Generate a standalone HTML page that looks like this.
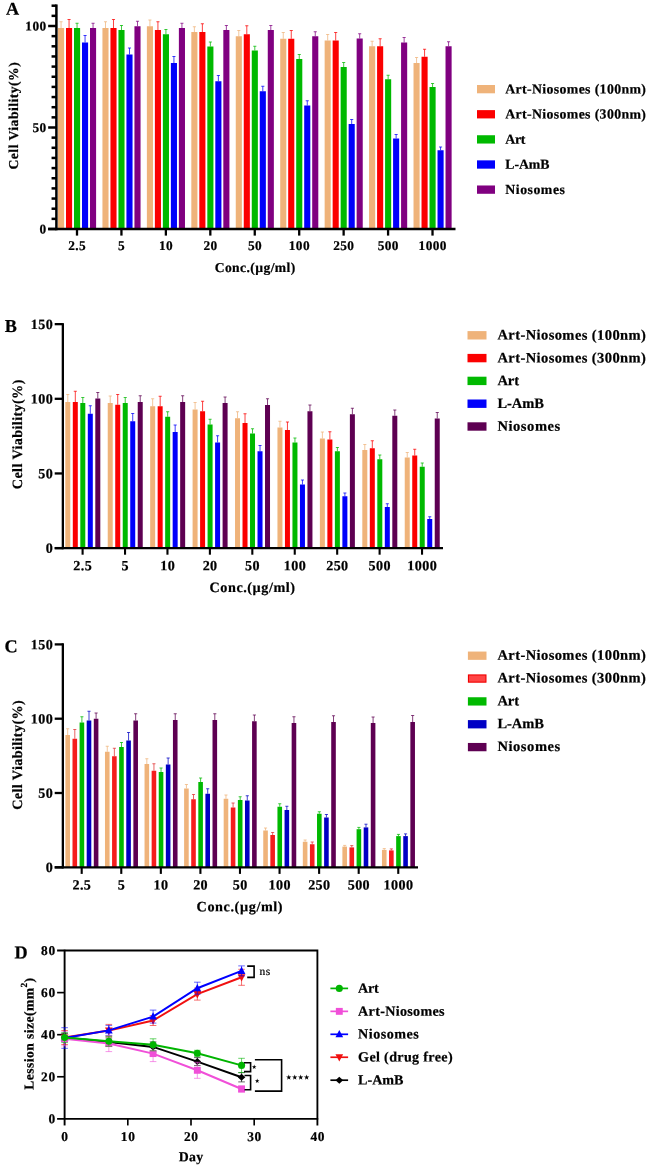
<!DOCTYPE html>
<html><head><meta charset="utf-8"><title>Figure</title>
<style>html,body{margin:0;padding:0;background:#fff;}body{width:649px;height:1166px;overflow:hidden;font-family:"Liberation Serif",serif;}svg{display:block;filter:blur(0.35px);}svg text{font-family:"Liberation Serif",serif;font-weight:bold;stroke:#000;stroke-width:0.22px;}</style></head>
<body>
<svg width="649" height="1166" viewBox="0 0 649 1166" font-family="Liberation Serif" font-weight="bold" fill="#000">
<rect width="649" height="1166" fill="#fff"/>
<g id="panelA">
<rect x="58.00" y="28.00" width="6.1" height="201.00" fill="#EFB37A"/>
<path d="M61.05 28.00V21.75M59.50 21.75H62.60" stroke="#EFB37A" stroke-width="0.75" fill="none"/>
<rect x="66.00" y="28.00" width="6.1" height="201.00" fill="#FB0000"/>
<path d="M69.05 28.00V19.50M67.50 19.50H70.60" stroke="#FB0000" stroke-width="0.75" fill="none"/>
<rect x="74.00" y="28.00" width="6.1" height="201.00" fill="#00B900"/>
<path d="M77.05 28.00V23.25M75.50 23.25H78.60" stroke="#00B900" stroke-width="0.75" fill="none"/>
<rect x="82.00" y="42.50" width="6.1" height="186.50" fill="#0000FB"/>
<path d="M85.05 42.50V35.50M83.50 35.50H86.60" stroke="#0000FB" stroke-width="0.75" fill="none"/>
<rect x="90.00" y="28.00" width="6.1" height="201.00" fill="#800080"/>
<path d="M93.05 28.00V23.25M91.50 23.25H94.60" stroke="#800080" stroke-width="0.75" fill="none"/>
<rect x="102.44" y="28.00" width="6.1" height="201.00" fill="#EFB37A"/>
<path d="M105.49 28.00V21.75M103.94 21.75H107.04" stroke="#EFB37A" stroke-width="0.75" fill="none"/>
<rect x="110.44" y="28.00" width="6.1" height="201.00" fill="#FB0000"/>
<path d="M113.49 28.00V19.50M111.94 19.50H115.04" stroke="#FB0000" stroke-width="0.75" fill="none"/>
<rect x="118.44" y="30.00" width="6.1" height="199.00" fill="#00B900"/>
<path d="M121.49 30.00V25.50M119.94 25.50H123.04" stroke="#00B900" stroke-width="0.75" fill="none"/>
<rect x="126.44" y="54.50" width="6.1" height="174.50" fill="#0000FB"/>
<path d="M129.49 54.50V48.00M127.94 48.00H131.04" stroke="#0000FB" stroke-width="0.75" fill="none"/>
<rect x="134.44" y="26.25" width="6.1" height="202.75" fill="#800080"/>
<path d="M137.49 26.25V21.25M135.94 21.25H139.04" stroke="#800080" stroke-width="0.75" fill="none"/>
<rect x="146.88" y="26.25" width="6.1" height="202.75" fill="#EFB37A"/>
<path d="M149.93 26.25V20.00M148.38 20.00H151.48" stroke="#EFB37A" stroke-width="0.75" fill="none"/>
<rect x="154.88" y="30.00" width="6.1" height="199.00" fill="#FB0000"/>
<path d="M157.93 30.00V21.75M156.38 21.75H159.48" stroke="#FB0000" stroke-width="0.75" fill="none"/>
<rect x="162.88" y="34.25" width="6.1" height="194.75" fill="#00B900"/>
<path d="M165.93 34.25V29.50M164.38 29.50H167.48" stroke="#00B900" stroke-width="0.75" fill="none"/>
<rect x="170.88" y="63.00" width="6.1" height="166.00" fill="#0000FB"/>
<path d="M173.93 63.00V56.50M172.38 56.50H175.48" stroke="#0000FB" stroke-width="0.75" fill="none"/>
<rect x="178.88" y="28.00" width="6.1" height="201.00" fill="#800080"/>
<path d="M181.93 28.00V23.25M180.38 23.25H183.48" stroke="#800080" stroke-width="0.75" fill="none"/>
<rect x="191.32" y="32.00" width="6.1" height="197.00" fill="#EFB37A"/>
<path d="M194.37 32.00V26.75M192.82 26.75H195.92" stroke="#EFB37A" stroke-width="0.75" fill="none"/>
<rect x="199.32" y="32.00" width="6.1" height="197.00" fill="#FB0000"/>
<path d="M202.37 32.00V23.75M200.82 23.75H203.92" stroke="#FB0000" stroke-width="0.75" fill="none"/>
<rect x="207.32" y="46.50" width="6.1" height="182.50" fill="#00B900"/>
<path d="M210.37 46.50V42.00M208.82 42.00H211.92" stroke="#00B900" stroke-width="0.75" fill="none"/>
<rect x="215.32" y="81.25" width="6.1" height="147.75" fill="#0000FB"/>
<path d="M218.37 81.25V75.50M216.82 75.50H219.92" stroke="#0000FB" stroke-width="0.75" fill="none"/>
<rect x="223.32" y="30.00" width="6.1" height="199.00" fill="#800080"/>
<path d="M226.37 30.00V25.50M224.82 25.50H227.92" stroke="#800080" stroke-width="0.75" fill="none"/>
<rect x="235.76" y="36.25" width="6.1" height="192.75" fill="#EFB37A"/>
<path d="M238.81 36.25V30.50M237.26 30.50H240.36" stroke="#EFB37A" stroke-width="0.75" fill="none"/>
<rect x="243.76" y="34.25" width="6.1" height="194.75" fill="#FB0000"/>
<path d="M246.81 34.25V25.75M245.26 25.75H248.36" stroke="#FB0000" stroke-width="0.75" fill="none"/>
<rect x="251.76" y="50.50" width="6.1" height="178.50" fill="#00B900"/>
<path d="M254.81 50.50V46.25M253.26 46.25H256.36" stroke="#00B900" stroke-width="0.75" fill="none"/>
<rect x="259.76" y="91.25" width="6.1" height="137.75" fill="#0000FB"/>
<path d="M262.81 91.25V86.25M261.26 86.25H264.36" stroke="#0000FB" stroke-width="0.75" fill="none"/>
<rect x="267.76" y="30.00" width="6.1" height="199.00" fill="#800080"/>
<path d="M270.81 30.00V25.50M269.26 25.50H272.36" stroke="#800080" stroke-width="0.75" fill="none"/>
<rect x="280.20" y="38.75" width="6.1" height="190.25" fill="#EFB37A"/>
<path d="M283.25 38.75V32.50M281.70 32.50H284.80" stroke="#EFB37A" stroke-width="0.75" fill="none"/>
<rect x="288.20" y="38.75" width="6.1" height="190.25" fill="#FB0000"/>
<path d="M291.25 38.75V30.50M289.70 30.50H292.80" stroke="#FB0000" stroke-width="0.75" fill="none"/>
<rect x="296.20" y="59.00" width="6.1" height="170.00" fill="#00B900"/>
<path d="M299.25 59.00V54.50M297.70 54.50H300.80" stroke="#00B900" stroke-width="0.75" fill="none"/>
<rect x="304.20" y="105.50" width="6.1" height="123.50" fill="#0000FB"/>
<path d="M307.25 105.50V100.75M305.70 100.75H308.80" stroke="#0000FB" stroke-width="0.75" fill="none"/>
<rect x="312.20" y="36.25" width="6.1" height="192.75" fill="#800080"/>
<path d="M315.25 36.25V31.75M313.70 31.75H316.80" stroke="#800080" stroke-width="0.75" fill="none"/>
<rect x="324.64" y="40.50" width="6.1" height="188.50" fill="#EFB37A"/>
<path d="M327.69 40.50V34.50M326.14 34.50H329.24" stroke="#EFB37A" stroke-width="0.75" fill="none"/>
<rect x="332.64" y="40.50" width="6.1" height="188.50" fill="#FB0000"/>
<path d="M335.69 40.50V32.50M334.14 32.50H337.24" stroke="#FB0000" stroke-width="0.75" fill="none"/>
<rect x="340.64" y="67.00" width="6.1" height="162.00" fill="#00B900"/>
<path d="M343.69 67.00V62.50M342.14 62.50H345.24" stroke="#00B900" stroke-width="0.75" fill="none"/>
<rect x="348.64" y="124.00" width="6.1" height="105.00" fill="#0000FB"/>
<path d="M351.69 124.00V119.50M350.14 119.50H353.24" stroke="#0000FB" stroke-width="0.75" fill="none"/>
<rect x="356.64" y="38.50" width="6.1" height="190.50" fill="#800080"/>
<path d="M359.69 38.50V33.75M358.14 33.75H361.24" stroke="#800080" stroke-width="0.75" fill="none"/>
<rect x="369.08" y="46.25" width="6.1" height="182.75" fill="#EFB37A"/>
<path d="M372.13 46.25V41.25M370.58 41.25H373.68" stroke="#EFB37A" stroke-width="0.75" fill="none"/>
<rect x="377.08" y="46.25" width="6.1" height="182.75" fill="#FB0000"/>
<path d="M380.13 46.25V38.75M378.58 38.75H381.68" stroke="#FB0000" stroke-width="0.75" fill="none"/>
<rect x="385.08" y="79.25" width="6.1" height="149.75" fill="#00B900"/>
<path d="M388.13 79.25V75.25M386.58 75.25H389.68" stroke="#00B900" stroke-width="0.75" fill="none"/>
<rect x="393.08" y="138.50" width="6.1" height="90.50" fill="#0000FB"/>
<path d="M396.13 138.50V134.50M394.58 134.50H397.68" stroke="#0000FB" stroke-width="0.75" fill="none"/>
<rect x="401.08" y="42.50" width="6.1" height="186.50" fill="#800080"/>
<path d="M404.13 42.50V37.50M402.58 37.50H405.68" stroke="#800080" stroke-width="0.75" fill="none"/>
<rect x="413.52" y="63.00" width="6.1" height="166.00" fill="#EFB37A"/>
<path d="M416.57 63.00V57.50M415.02 57.50H418.12" stroke="#EFB37A" stroke-width="0.75" fill="none"/>
<rect x="421.52" y="56.75" width="6.1" height="172.25" fill="#FB0000"/>
<path d="M424.57 56.75V49.25M423.02 49.25H426.12" stroke="#FB0000" stroke-width="0.75" fill="none"/>
<rect x="429.52" y="87.00" width="6.1" height="142.00" fill="#00B900"/>
<path d="M432.57 87.00V83.50M431.02 83.50H434.12" stroke="#00B900" stroke-width="0.75" fill="none"/>
<rect x="437.52" y="150.25" width="6.1" height="78.75" fill="#0000FB"/>
<path d="M440.57 150.25V147.00M439.02 147.00H442.12" stroke="#0000FB" stroke-width="0.75" fill="none"/>
<rect x="445.52" y="46.25" width="6.1" height="182.75" fill="#800080"/>
<path d="M448.57 46.25V41.75M447.02 41.75H450.12" stroke="#800080" stroke-width="0.75" fill="none"/>
<path d="M56.4 4.45V230.25" stroke="#000" stroke-width="2.5" fill="none"/>
<path d="M48.15 229.0H455.5" stroke="#000" stroke-width="2.5" fill="none"/>
<path d="M48.15 229.00H56.4" stroke="#000" stroke-width="2.5" fill="none"/>
<text x="46.57" y="233.5" transform="rotate(0.03 46.57 233.5)" font-size="13.3" text-anchor="end" letter-spacing="0.42">0</text>
<path d="M48.15 127.50H56.4" stroke="#000" stroke-width="2.5" fill="none"/>
<text x="46.57" y="132.0" transform="rotate(0.03 46.57 132.0)" font-size="13.3" text-anchor="end" letter-spacing="0.42">50</text>
<path d="M48.15 26.00H56.4" stroke="#000" stroke-width="2.5" fill="none"/>
<text x="46.57" y="30.5" transform="rotate(0.03 46.57 30.5)" font-size="13.3" text-anchor="end" letter-spacing="0.42">100</text>
<path d="M51.55 218.85H56.4" stroke="#000" stroke-width="2.5" fill="none"/>
<path d="M51.55 208.70H56.4" stroke="#000" stroke-width="2.5" fill="none"/>
<path d="M51.55 198.55H56.4" stroke="#000" stroke-width="2.5" fill="none"/>
<path d="M51.55 188.40H56.4" stroke="#000" stroke-width="2.5" fill="none"/>
<path d="M51.55 178.25H56.4" stroke="#000" stroke-width="2.5" fill="none"/>
<path d="M51.55 168.10H56.4" stroke="#000" stroke-width="2.5" fill="none"/>
<path d="M51.55 157.95H56.4" stroke="#000" stroke-width="2.5" fill="none"/>
<path d="M51.55 147.80H56.4" stroke="#000" stroke-width="2.5" fill="none"/>
<path d="M51.55 137.65H56.4" stroke="#000" stroke-width="2.5" fill="none"/>
<path d="M51.55 117.35H56.4" stroke="#000" stroke-width="2.5" fill="none"/>
<path d="M51.55 107.20H56.4" stroke="#000" stroke-width="2.5" fill="none"/>
<path d="M51.55 97.05H56.4" stroke="#000" stroke-width="2.5" fill="none"/>
<path d="M51.55 86.90H56.4" stroke="#000" stroke-width="2.5" fill="none"/>
<path d="M51.55 76.75H56.4" stroke="#000" stroke-width="2.5" fill="none"/>
<path d="M51.55 66.60H56.4" stroke="#000" stroke-width="2.5" fill="none"/>
<path d="M51.55 56.45H56.4" stroke="#000" stroke-width="2.5" fill="none"/>
<path d="M51.55 46.30H56.4" stroke="#000" stroke-width="2.5" fill="none"/>
<path d="M51.55 36.15H56.4" stroke="#000" stroke-width="2.5" fill="none"/>
<path d="M51.55 15.85H56.4" stroke="#000" stroke-width="2.5" fill="none"/>
<path d="M51.55 5.70H56.4" stroke="#000" stroke-width="2.5" fill="none"/>
<path d="M77.00 229.0V235.60" stroke="#000" stroke-width="2.3" fill="none"/>
<text x="77.21" y="250.0" transform="rotate(0.03 77.21 250.0)" font-size="13.3" text-anchor="middle" letter-spacing="0.42">2.5</text>
<path d="M121.44 229.0V235.60" stroke="#000" stroke-width="2.3" fill="none"/>
<text x="121.65" y="250.0" transform="rotate(0.03 121.65 250.0)" font-size="13.3" text-anchor="middle" letter-spacing="0.42">5</text>
<path d="M165.88 229.0V235.60" stroke="#000" stroke-width="2.3" fill="none"/>
<text x="166.09" y="250.0" transform="rotate(0.03 166.09 250.0)" font-size="13.3" text-anchor="middle" letter-spacing="0.42">10</text>
<path d="M210.32 229.0V235.60" stroke="#000" stroke-width="2.3" fill="none"/>
<text x="210.53" y="250.0" transform="rotate(0.03 210.53 250.0)" font-size="13.3" text-anchor="middle" letter-spacing="0.42">20</text>
<path d="M254.76 229.0V235.60" stroke="#000" stroke-width="2.3" fill="none"/>
<text x="254.97" y="250.0" transform="rotate(0.03 254.97 250.0)" font-size="13.3" text-anchor="middle" letter-spacing="0.42">50</text>
<path d="M299.20 229.0V235.60" stroke="#000" stroke-width="2.3" fill="none"/>
<text x="299.41" y="250.0" transform="rotate(0.03 299.41 250.0)" font-size="13.3" text-anchor="middle" letter-spacing="0.42">100</text>
<path d="M343.64 229.0V235.60" stroke="#000" stroke-width="2.3" fill="none"/>
<text x="343.85" y="250.0" transform="rotate(0.03 343.85 250.0)" font-size="13.3" text-anchor="middle" letter-spacing="0.42">250</text>
<path d="M388.08 229.0V235.60" stroke="#000" stroke-width="2.3" fill="none"/>
<text x="388.29" y="250.0" transform="rotate(0.03 388.29 250.0)" font-size="13.3" text-anchor="middle" letter-spacing="0.42">500</text>
<path d="M432.52 229.0V235.60" stroke="#000" stroke-width="2.3" fill="none"/>
<text x="432.73" y="250.0" transform="rotate(0.03 432.73 250.0)" font-size="13.3" text-anchor="middle" letter-spacing="0.42">1000</text>
<text x="255" y="272.0" transform="rotate(0.03 255 272.0)" font-size="13.6" text-anchor="middle" textLength="80.6" lengthAdjust="spacing">Conc.(µg/ml)</text>
<text transform="translate(18.0,115.9) rotate(-89.97)" font-size="13.6" text-anchor="middle" textLength="107.2" lengthAdjust="spacing">Cell Viability(%)</text>
<text x="5.9" y="14.7" transform="rotate(0.03 5.9 14.7)" font-size="18.2" letter-spacing="0.0">A</text>
<rect x="477.00" y="85.00" width="18.00" height="8.30" fill="#EFB37A"/>
<text x="505.3" y="93.45" transform="rotate(0.03 505.3 93.45)" font-size="13.8" textLength="140.6" lengthAdjust="spacing">Art-Niosomes (100nm)</text>
<rect x="477.00" y="110.12" width="18.00" height="8.30" fill="#FB0000"/>
<text x="505.3" y="118.57" transform="rotate(0.03 505.3 118.57)" font-size="13.8" textLength="140.6" lengthAdjust="spacing">Art-Niosomes (300nm)</text>
<rect x="477.00" y="135.24" width="18.00" height="8.30" fill="#00B900"/>
<text x="505.3" y="143.69" transform="rotate(0.03 505.3 143.69)" font-size="13.8" textLength="20.1" lengthAdjust="spacing">Art</text>
<rect x="477.00" y="160.36" width="18.00" height="8.30" fill="#0000FB"/>
<text x="505.3" y="168.81" transform="rotate(0.03 505.3 168.81)" font-size="13.8" textLength="44.2" lengthAdjust="spacing">L-AmB</text>
<rect x="477.00" y="185.48" width="18.00" height="8.30" fill="#800080"/>
<text x="505.3" y="193.93" transform="rotate(0.03 505.3 193.93)" font-size="13.8" textLength="59.6" lengthAdjust="spacing">Niosomes</text>
</g>
<g id="panelB">
<rect x="65.30" y="402.00" width="5" height="146.10" fill="#EFB37A"/>
<path d="M67.80 402.00V394.50M66.25 394.50H69.35" stroke="#EFB37A" stroke-width="0.75" fill="none"/>
<rect x="72.80" y="402.00" width="5" height="146.10" fill="#FB0000"/>
<path d="M75.30 402.00V391.25M73.75 391.25H76.85" stroke="#FB0000" stroke-width="0.75" fill="none"/>
<rect x="80.30" y="403.00" width="5" height="145.10" fill="#00B900"/>
<path d="M82.80 403.00V397.50M81.25 397.50H84.35" stroke="#00B900" stroke-width="0.75" fill="none"/>
<rect x="87.80" y="413.75" width="5" height="134.35" fill="#0000FB"/>
<path d="M90.30 413.75V405.75M88.75 405.75H91.85" stroke="#0000FB" stroke-width="0.75" fill="none"/>
<rect x="95.30" y="398.50" width="5" height="149.60" fill="#5E0052"/>
<path d="M97.80 398.50V392.50M96.25 392.50H99.35" stroke="#5E0052" stroke-width="0.75" fill="none"/>
<rect x="107.73" y="403.00" width="5" height="145.10" fill="#EFB37A"/>
<path d="M110.23 403.00V396.00M108.68 396.00H111.78" stroke="#EFB37A" stroke-width="0.75" fill="none"/>
<rect x="115.23" y="404.75" width="5" height="143.35" fill="#FB0000"/>
<path d="M117.73 404.75V394.50M116.18 394.50H119.28" stroke="#FB0000" stroke-width="0.75" fill="none"/>
<rect x="122.73" y="403.00" width="5" height="145.10" fill="#00B900"/>
<path d="M125.23 403.00V397.50M123.68 397.50H126.78" stroke="#00B900" stroke-width="0.75" fill="none"/>
<rect x="130.23" y="421.25" width="5" height="126.85" fill="#0000FB"/>
<path d="M132.73 421.25V413.50M131.18 413.50H134.28" stroke="#0000FB" stroke-width="0.75" fill="none"/>
<rect x="137.73" y="402.00" width="5" height="146.10" fill="#5E0052"/>
<path d="M140.23 402.00V395.75M138.68 395.75H141.78" stroke="#5E0052" stroke-width="0.75" fill="none"/>
<rect x="150.16" y="406.25" width="5" height="141.85" fill="#EFB37A"/>
<path d="M152.66 406.25V398.75M151.11 398.75H154.21" stroke="#EFB37A" stroke-width="0.75" fill="none"/>
<rect x="157.66" y="406.25" width="5" height="141.85" fill="#FB0000"/>
<path d="M160.16 406.25V396.25M158.61 396.25H161.71" stroke="#FB0000" stroke-width="0.75" fill="none"/>
<rect x="165.16" y="416.75" width="5" height="131.35" fill="#00B900"/>
<path d="M167.66 416.75V411.75M166.11 411.75H169.21" stroke="#00B900" stroke-width="0.75" fill="none"/>
<rect x="172.66" y="432.00" width="5" height="116.10" fill="#0000FB"/>
<path d="M175.16 432.00V425.00M173.61 425.00H176.71" stroke="#0000FB" stroke-width="0.75" fill="none"/>
<rect x="180.16" y="402.00" width="5" height="146.10" fill="#5E0052"/>
<path d="M182.66 402.00V395.75M181.11 395.75H184.21" stroke="#5E0052" stroke-width="0.75" fill="none"/>
<rect x="192.59" y="409.50" width="5" height="138.60" fill="#EFB37A"/>
<path d="M195.09 409.50V402.50M193.54 402.50H196.64" stroke="#EFB37A" stroke-width="0.75" fill="none"/>
<rect x="200.09" y="411.25" width="5" height="136.85" fill="#FB0000"/>
<path d="M202.59 411.25V401.25M201.04 401.25H204.14" stroke="#FB0000" stroke-width="0.75" fill="none"/>
<rect x="207.59" y="424.50" width="5" height="123.60" fill="#00B900"/>
<path d="M210.09 424.50V419.25M208.54 419.25H211.64" stroke="#00B900" stroke-width="0.75" fill="none"/>
<rect x="215.09" y="442.50" width="5" height="105.60" fill="#0000FB"/>
<path d="M217.59 442.50V435.75M216.04 435.75H219.14" stroke="#0000FB" stroke-width="0.75" fill="none"/>
<rect x="222.59" y="403.00" width="5" height="145.10" fill="#5E0052"/>
<path d="M225.09 403.00V397.00M223.54 397.00H226.64" stroke="#5E0052" stroke-width="0.75" fill="none"/>
<rect x="235.02" y="418.25" width="5" height="129.85" fill="#EFB37A"/>
<path d="M237.52 418.25V411.75M235.97 411.75H239.07" stroke="#EFB37A" stroke-width="0.75" fill="none"/>
<rect x="242.52" y="423.00" width="5" height="125.10" fill="#FB0000"/>
<path d="M245.02 423.00V413.75M243.47 413.75H246.57" stroke="#FB0000" stroke-width="0.75" fill="none"/>
<rect x="250.02" y="433.50" width="5" height="114.60" fill="#00B900"/>
<path d="M252.52 433.50V428.75M250.97 428.75H254.07" stroke="#00B900" stroke-width="0.75" fill="none"/>
<rect x="257.52" y="451.25" width="5" height="96.85" fill="#0000FB"/>
<path d="M260.02 451.25V445.50M258.47 445.50H261.57" stroke="#0000FB" stroke-width="0.75" fill="none"/>
<rect x="265.02" y="405.00" width="5" height="143.10" fill="#5E0052"/>
<path d="M267.52 405.00V398.75M265.97 398.75H269.07" stroke="#5E0052" stroke-width="0.75" fill="none"/>
<rect x="277.45" y="427.50" width="5" height="120.60" fill="#EFB37A"/>
<path d="M279.95 427.50V421.25M278.40 421.25H281.50" stroke="#EFB37A" stroke-width="0.75" fill="none"/>
<rect x="284.95" y="430.00" width="5" height="118.10" fill="#FB0000"/>
<path d="M287.45 430.00V422.00M285.90 422.00H289.00" stroke="#FB0000" stroke-width="0.75" fill="none"/>
<rect x="292.45" y="442.50" width="5" height="105.60" fill="#00B900"/>
<path d="M294.95 442.50V438.00M293.40 438.00H296.50" stroke="#00B900" stroke-width="0.75" fill="none"/>
<rect x="299.95" y="484.50" width="5" height="63.60" fill="#0000FB"/>
<path d="M302.45 484.50V480.00M300.90 480.00H304.00" stroke="#0000FB" stroke-width="0.75" fill="none"/>
<rect x="307.45" y="411.25" width="5" height="136.85" fill="#5E0052"/>
<path d="M309.95 411.25V405.00M308.40 405.00H311.50" stroke="#5E0052" stroke-width="0.75" fill="none"/>
<rect x="319.88" y="438.50" width="5" height="109.60" fill="#EFB37A"/>
<path d="M322.38 438.50V432.00M320.83 432.00H323.93" stroke="#EFB37A" stroke-width="0.75" fill="none"/>
<rect x="327.38" y="439.50" width="5" height="108.60" fill="#FB0000"/>
<path d="M329.88 439.50V431.75M328.33 431.75H331.43" stroke="#FB0000" stroke-width="0.75" fill="none"/>
<rect x="334.88" y="451.25" width="5" height="96.85" fill="#00B900"/>
<path d="M337.38 451.25V447.50M335.83 447.50H338.93" stroke="#00B900" stroke-width="0.75" fill="none"/>
<rect x="342.38" y="496.25" width="5" height="51.85" fill="#0000FB"/>
<path d="M344.88 496.25V493.00M343.33 493.00H346.43" stroke="#0000FB" stroke-width="0.75" fill="none"/>
<rect x="349.88" y="414.25" width="5" height="133.85" fill="#5E0052"/>
<path d="M352.38 414.25V408.25M350.83 408.25H353.93" stroke="#5E0052" stroke-width="0.75" fill="none"/>
<rect x="362.31" y="450.00" width="5" height="98.10" fill="#EFB37A"/>
<path d="M364.81 450.00V444.50M363.26 444.50H366.36" stroke="#EFB37A" stroke-width="0.75" fill="none"/>
<rect x="369.81" y="448.25" width="5" height="99.85" fill="#FB0000"/>
<path d="M372.31 448.25V440.75M370.76 440.75H373.86" stroke="#FB0000" stroke-width="0.75" fill="none"/>
<rect x="377.31" y="459.25" width="5" height="88.85" fill="#00B900"/>
<path d="M379.81 459.25V455.00M378.26 455.00H381.36" stroke="#00B900" stroke-width="0.75" fill="none"/>
<rect x="384.81" y="507.00" width="5" height="41.10" fill="#0000FB"/>
<path d="M387.31 507.00V503.75M385.76 503.75H388.86" stroke="#0000FB" stroke-width="0.75" fill="none"/>
<rect x="392.31" y="415.75" width="5" height="132.35" fill="#5E0052"/>
<path d="M394.81 415.75V410.00M393.26 410.00H396.36" stroke="#5E0052" stroke-width="0.75" fill="none"/>
<rect x="404.74" y="457.50" width="5" height="90.60" fill="#EFB37A"/>
<path d="M407.24 457.50V452.50M405.69 452.50H408.79" stroke="#EFB37A" stroke-width="0.75" fill="none"/>
<rect x="412.24" y="455.50" width="5" height="92.60" fill="#FB0000"/>
<path d="M414.74 455.50V449.25M413.19 449.25H416.29" stroke="#FB0000" stroke-width="0.75" fill="none"/>
<rect x="419.74" y="466.75" width="5" height="81.35" fill="#00B900"/>
<path d="M422.24 466.75V463.00M420.69 463.00H423.79" stroke="#00B900" stroke-width="0.75" fill="none"/>
<rect x="427.24" y="519.00" width="5" height="29.10" fill="#0000FB"/>
<path d="M429.74 519.00V516.75M428.19 516.75H431.29" stroke="#0000FB" stroke-width="0.75" fill="none"/>
<rect x="434.74" y="418.50" width="5" height="129.60" fill="#5E0052"/>
<path d="M437.24 418.50V412.50M435.69 412.50H438.79" stroke="#5E0052" stroke-width="0.75" fill="none"/>
<path d="M62.85 323.15V549.25" stroke="#000" stroke-width="2.3" fill="none"/>
<path d="M54.70 548.1H443" stroke="#000" stroke-width="2.3" fill="none"/>
<path d="M54.70 548.10H62.85" stroke="#000" stroke-width="2.3" fill="none"/>
<text x="53.12" y="552.85" transform="rotate(0.03 53.12 552.85)" font-size="14.1" text-anchor="end" letter-spacing="0.42">0</text>
<path d="M54.70 473.45H62.85" stroke="#000" stroke-width="2.3" fill="none"/>
<text x="53.12" y="478.2" transform="rotate(0.03 53.12 478.2)" font-size="14.1" text-anchor="end" letter-spacing="0.42">50</text>
<path d="M54.70 398.80H62.85" stroke="#000" stroke-width="2.3" fill="none"/>
<text x="53.12" y="403.55" transform="rotate(0.03 53.12 403.55)" font-size="14.1" text-anchor="end" letter-spacing="0.42">100</text>
<path d="M54.70 324.15H62.85" stroke="#000" stroke-width="2.3" fill="none"/>
<text x="53.12" y="328.9" transform="rotate(0.03 53.12 328.9)" font-size="14.1" text-anchor="end" letter-spacing="0.42">150</text>
<path d="M82.60 548.1V554.70" stroke="#000" stroke-width="2.1" fill="none"/>
<text x="82.81" y="570.3" transform="rotate(0.03 82.81 570.3)" font-size="14.1" text-anchor="middle" letter-spacing="0.42">2.5</text>
<path d="M125.03 548.1V554.70" stroke="#000" stroke-width="2.1" fill="none"/>
<text x="125.24" y="570.3" transform="rotate(0.03 125.24 570.3)" font-size="14.1" text-anchor="middle" letter-spacing="0.42">5</text>
<path d="M167.46 548.1V554.70" stroke="#000" stroke-width="2.1" fill="none"/>
<text x="167.67" y="570.3" transform="rotate(0.03 167.67 570.3)" font-size="14.1" text-anchor="middle" letter-spacing="0.42">10</text>
<path d="M209.89 548.1V554.70" stroke="#000" stroke-width="2.1" fill="none"/>
<text x="210.1" y="570.3" transform="rotate(0.03 210.1 570.3)" font-size="14.1" text-anchor="middle" letter-spacing="0.42">20</text>
<path d="M252.32 548.1V554.70" stroke="#000" stroke-width="2.1" fill="none"/>
<text x="252.53" y="570.3" transform="rotate(0.03 252.53 570.3)" font-size="14.1" text-anchor="middle" letter-spacing="0.42">50</text>
<path d="M294.75 548.1V554.70" stroke="#000" stroke-width="2.1" fill="none"/>
<text x="294.96" y="570.3" transform="rotate(0.03 294.96 570.3)" font-size="14.1" text-anchor="middle" letter-spacing="0.42">100</text>
<path d="M337.18 548.1V554.70" stroke="#000" stroke-width="2.1" fill="none"/>
<text x="337.39" y="570.3" transform="rotate(0.03 337.39 570.3)" font-size="14.1" text-anchor="middle" letter-spacing="0.42">250</text>
<path d="M379.61 548.1V554.70" stroke="#000" stroke-width="2.1" fill="none"/>
<text x="379.82" y="570.3" transform="rotate(0.03 379.82 570.3)" font-size="14.1" text-anchor="middle" letter-spacing="0.42">500</text>
<path d="M422.04 548.1V554.70" stroke="#000" stroke-width="2.1" fill="none"/>
<text x="422.25" y="570.3" transform="rotate(0.03 422.25 570.3)" font-size="14.1" text-anchor="middle" letter-spacing="0.42">1000</text>
<text x="252.3" y="592.0" transform="rotate(0.03 252.3 592.0)" font-size="14.2" text-anchor="middle" textLength="85.6" lengthAdjust="spacing">Conc.(µg/ml)</text>
<text transform="translate(22.1,434.4) rotate(-89.97)" font-size="14.2" text-anchor="middle" textLength="109.6" lengthAdjust="spacing">Cell Viability(%)</text>
<text x="4.8" y="331.9" transform="rotate(0.03 4.8 331.9)" font-size="18.2" letter-spacing="0.0">B</text>
<rect x="467.50" y="331.10" width="19.00" height="8.40" fill="#EFB37A"/>
<text x="497.4" y="339.6" transform="rotate(0.03 497.4 339.6)" font-size="14.5" textLength="148.5" lengthAdjust="spacing">Art-Niosomes (100nm)</text>
<rect x="467.50" y="353.90" width="19.00" height="8.40" fill="#FB0000"/>
<text x="497.4" y="362.4" transform="rotate(0.03 497.4 362.4)" font-size="14.5" textLength="148.5" lengthAdjust="spacing">Art-Niosomes (300nm)</text>
<rect x="467.50" y="376.70" width="19.00" height="8.40" fill="#00B900"/>
<text x="497.4" y="385.2" transform="rotate(0.03 497.4 385.2)" font-size="14.5" textLength="21.7" lengthAdjust="spacing">Art</text>
<rect x="467.50" y="399.50" width="19.00" height="8.40" fill="#0000FB"/>
<text x="497.4" y="408.0" transform="rotate(0.03 497.4 408.0)" font-size="14.5" textLength="46.4" lengthAdjust="spacing">L-AmB</text>
<rect x="467.50" y="422.30" width="19.00" height="8.40" fill="#5E0052"/>
<text x="497.4" y="430.8" transform="rotate(0.03 497.4 430.8)" font-size="14.5" textLength="62.8" lengthAdjust="spacing">Niosomes</text>
</g>
<g id="panelC">
<rect x="65.40" y="735.00" width="4.6" height="132.30" fill="#EFB37A"/>
<path d="M67.70 735.00V728.75M66.15 728.75H69.25" stroke="#EFB37A" stroke-width="0.75" fill="none"/>
<rect x="72.50" y="738.75" width="4.6" height="128.55" fill="#F51D1D"/>
<path d="M74.80 738.75V729.50M73.25 729.50H76.35" stroke="#E03030" stroke-width="0.75" fill="none"/>
<rect x="79.60" y="722.50" width="4.6" height="144.80" fill="#00B900"/>
<path d="M81.90 722.50V716.75M80.35 716.75H83.45" stroke="#00B900" stroke-width="0.75" fill="none"/>
<rect x="86.70" y="720.50" width="4.6" height="146.80" fill="#0000C4"/>
<path d="M89.00 720.50V711.25M87.45 711.25H90.55" stroke="#0000C4" stroke-width="0.75" fill="none"/>
<rect x="93.80" y="718.75" width="4.6" height="148.55" fill="#5E0052"/>
<path d="M96.10 718.75V713.00M94.55 713.00H97.65" stroke="#5E0052" stroke-width="0.75" fill="none"/>
<rect x="104.97" y="751.75" width="4.6" height="115.55" fill="#EFB37A"/>
<path d="M107.27 751.75V746.25M105.72 746.25H108.82" stroke="#EFB37A" stroke-width="0.75" fill="none"/>
<rect x="112.07" y="756.25" width="4.6" height="111.05" fill="#F51D1D"/>
<path d="M114.37 756.25V748.25M112.82 748.25H115.92" stroke="#E03030" stroke-width="0.75" fill="none"/>
<rect x="119.17" y="747.00" width="4.6" height="120.30" fill="#00B900"/>
<path d="M121.47 747.00V742.50M119.92 742.50H123.02" stroke="#00B900" stroke-width="0.75" fill="none"/>
<rect x="126.27" y="740.50" width="4.6" height="126.80" fill="#0000C4"/>
<path d="M128.57 740.50V732.50M127.02 732.50H130.12" stroke="#0000C4" stroke-width="0.75" fill="none"/>
<rect x="133.37" y="720.50" width="4.6" height="146.80" fill="#5E0052"/>
<path d="M135.67 720.50V713.75M134.12 713.75H137.22" stroke="#5E0052" stroke-width="0.75" fill="none"/>
<rect x="144.54" y="764.00" width="4.6" height="103.30" fill="#EFB37A"/>
<path d="M146.84 764.00V758.75M145.29 758.75H148.39" stroke="#EFB37A" stroke-width="0.75" fill="none"/>
<rect x="151.64" y="770.75" width="4.6" height="96.55" fill="#F51D1D"/>
<path d="M153.94 770.75V763.75M152.39 763.75H155.49" stroke="#E03030" stroke-width="0.75" fill="none"/>
<rect x="158.74" y="772.00" width="4.6" height="95.30" fill="#00B900"/>
<path d="M161.04 772.00V768.00M159.49 768.00H162.59" stroke="#00B900" stroke-width="0.75" fill="none"/>
<rect x="165.84" y="764.50" width="4.6" height="102.80" fill="#0000C4"/>
<path d="M168.14 764.50V758.00M166.59 758.00H169.69" stroke="#0000C4" stroke-width="0.75" fill="none"/>
<rect x="172.94" y="720.00" width="4.6" height="147.30" fill="#5E0052"/>
<path d="M175.24 720.00V713.75M173.69 713.75H176.79" stroke="#5E0052" stroke-width="0.75" fill="none"/>
<rect x="184.11" y="788.50" width="4.6" height="78.80" fill="#EFB37A"/>
<path d="M186.41 788.50V784.50M184.86 784.50H187.96" stroke="#EFB37A" stroke-width="0.75" fill="none"/>
<rect x="191.21" y="799.25" width="4.6" height="68.05" fill="#F51D1D"/>
<path d="M193.51 799.25V794.50M191.96 794.50H195.06" stroke="#E03030" stroke-width="0.75" fill="none"/>
<rect x="198.31" y="782.00" width="4.6" height="85.30" fill="#00B900"/>
<path d="M200.61 782.00V778.00M199.06 778.00H202.16" stroke="#00B900" stroke-width="0.75" fill="none"/>
<rect x="205.41" y="793.75" width="4.6" height="73.55" fill="#0000C4"/>
<path d="M207.71 793.75V788.75M206.16 788.75H209.26" stroke="#0000C4" stroke-width="0.75" fill="none"/>
<rect x="212.51" y="720.00" width="4.6" height="147.30" fill="#5E0052"/>
<path d="M214.81 720.00V713.75M213.26 713.75H216.36" stroke="#5E0052" stroke-width="0.75" fill="none"/>
<rect x="223.68" y="798.75" width="4.6" height="68.55" fill="#EFB37A"/>
<path d="M225.98 798.75V795.00M224.43 795.00H227.53" stroke="#EFB37A" stroke-width="0.75" fill="none"/>
<rect x="230.78" y="807.50" width="4.6" height="59.80" fill="#F51D1D"/>
<path d="M233.08 807.50V803.00M231.53 803.00H234.63" stroke="#E03030" stroke-width="0.75" fill="none"/>
<rect x="237.88" y="800.00" width="4.6" height="67.30" fill="#00B900"/>
<path d="M240.18 800.00V796.75M238.63 796.75H241.73" stroke="#00B900" stroke-width="0.75" fill="none"/>
<rect x="244.98" y="800.50" width="4.6" height="66.80" fill="#0000C4"/>
<path d="M247.28 800.50V795.75M245.73 795.75H248.83" stroke="#0000C4" stroke-width="0.75" fill="none"/>
<rect x="252.08" y="721.25" width="4.6" height="146.05" fill="#5E0052"/>
<path d="M254.38 721.25V715.00M252.83 715.00H255.93" stroke="#5E0052" stroke-width="0.75" fill="none"/>
<rect x="263.25" y="830.50" width="4.6" height="36.80" fill="#EFB37A"/>
<path d="M265.55 830.50V828.00M264.00 828.00H267.10" stroke="#EFB37A" stroke-width="0.75" fill="none"/>
<rect x="270.35" y="835.00" width="4.6" height="32.30" fill="#F51D1D"/>
<path d="M272.65 835.00V832.50M271.10 832.50H274.20" stroke="#E03030" stroke-width="0.75" fill="none"/>
<rect x="277.45" y="806.75" width="4.6" height="60.55" fill="#00B900"/>
<path d="M279.75 806.75V803.75M278.20 803.75H281.30" stroke="#00B900" stroke-width="0.75" fill="none"/>
<rect x="284.55" y="810.00" width="4.6" height="57.30" fill="#0000C4"/>
<path d="M286.85 810.00V806.25M285.30 806.25H288.40" stroke="#0000C4" stroke-width="0.75" fill="none"/>
<rect x="291.65" y="723.00" width="4.6" height="144.30" fill="#5E0052"/>
<path d="M293.95 723.00V716.75M292.40 716.75H295.50" stroke="#5E0052" stroke-width="0.75" fill="none"/>
<rect x="302.82" y="841.75" width="4.6" height="25.55" fill="#EFB37A"/>
<path d="M305.12 841.75V840.00M303.57 840.00H306.67" stroke="#EFB37A" stroke-width="0.75" fill="none"/>
<rect x="309.92" y="844.25" width="4.6" height="23.05" fill="#F51D1D"/>
<path d="M312.22 844.25V842.00M310.67 842.00H313.77" stroke="#E03030" stroke-width="0.75" fill="none"/>
<rect x="317.02" y="813.75" width="4.6" height="53.55" fill="#00B900"/>
<path d="M319.32 813.75V811.75M317.77 811.75H320.87" stroke="#00B900" stroke-width="0.75" fill="none"/>
<rect x="324.12" y="817.50" width="4.6" height="49.80" fill="#0000C4"/>
<path d="M326.42 817.50V814.50M324.87 814.50H327.97" stroke="#0000C4" stroke-width="0.75" fill="none"/>
<rect x="331.22" y="722.00" width="4.6" height="145.30" fill="#5E0052"/>
<path d="M333.52 722.00V715.75M331.97 715.75H335.07" stroke="#5E0052" stroke-width="0.75" fill="none"/>
<rect x="342.39" y="846.60" width="4.6" height="20.70" fill="#EFB37A"/>
<path d="M344.69 846.60V845.40M343.14 845.40H346.24" stroke="#EFB37A" stroke-width="0.75" fill="none"/>
<rect x="349.49" y="847.40" width="4.6" height="19.90" fill="#F51D1D"/>
<path d="M351.79 847.40V845.60M350.24 845.60H353.34" stroke="#E03030" stroke-width="0.75" fill="none"/>
<rect x="356.59" y="829.20" width="4.6" height="38.10" fill="#00B900"/>
<path d="M358.89 829.20V827.40M357.34 827.40H360.44" stroke="#00B900" stroke-width="0.75" fill="none"/>
<rect x="363.69" y="827.40" width="4.6" height="39.90" fill="#0000C4"/>
<path d="M365.99 827.40V824.20M364.44 824.20H367.54" stroke="#0000C4" stroke-width="0.75" fill="none"/>
<rect x="370.79" y="723.00" width="4.6" height="144.30" fill="#5E0052"/>
<path d="M373.09 723.00V717.00M371.54 717.00H374.64" stroke="#5E0052" stroke-width="0.75" fill="none"/>
<rect x="381.96" y="849.90" width="4.6" height="17.40" fill="#EFB37A"/>
<path d="M384.26 849.90V848.60M382.71 848.60H385.81" stroke="#EFB37A" stroke-width="0.75" fill="none"/>
<rect x="389.06" y="850.40" width="4.6" height="16.90" fill="#F51D1D"/>
<path d="M391.36 850.40V848.90M389.81 848.90H392.91" stroke="#E03030" stroke-width="0.75" fill="none"/>
<rect x="396.16" y="836.10" width="4.6" height="31.20" fill="#00B900"/>
<path d="M398.46 836.10V834.40M396.91 834.40H400.01" stroke="#00B900" stroke-width="0.75" fill="none"/>
<rect x="403.26" y="836.10" width="4.6" height="31.20" fill="#0000C4"/>
<path d="M405.56 836.10V833.90M404.01 833.90H407.11" stroke="#0000C4" stroke-width="0.75" fill="none"/>
<rect x="410.36" y="722.00" width="4.6" height="145.30" fill="#5E0052"/>
<path d="M412.66 722.00V715.50M411.11 715.50H414.21" stroke="#5E0052" stroke-width="0.75" fill="none"/>
<path d="M62.85 643.25V868.45" stroke="#000" stroke-width="2.3" fill="none"/>
<path d="M54.70 867.3H418" stroke="#000" stroke-width="2.3" fill="none"/>
<path d="M54.70 867.30H62.85" stroke="#000" stroke-width="2.3" fill="none"/>
<text x="53.12" y="872.05" transform="rotate(0.03 53.12 872.05)" font-size="14.1" text-anchor="end" letter-spacing="0.42">0</text>
<path d="M54.70 793.00H62.85" stroke="#000" stroke-width="2.3" fill="none"/>
<text x="53.12" y="797.75" transform="rotate(0.03 53.12 797.75)" font-size="14.1" text-anchor="end" letter-spacing="0.42">50</text>
<path d="M54.70 718.70H62.85" stroke="#000" stroke-width="2.3" fill="none"/>
<text x="53.12" y="723.45" transform="rotate(0.03 53.12 723.45)" font-size="14.1" text-anchor="end" letter-spacing="0.42">100</text>
<path d="M54.70 644.40H62.85" stroke="#000" stroke-width="2.3" fill="none"/>
<text x="53.12" y="649.15" transform="rotate(0.03 53.12 649.15)" font-size="14.1" text-anchor="end" letter-spacing="0.42">150</text>
<path d="M81.70 867.3V873.90" stroke="#000" stroke-width="2.1" fill="none"/>
<text x="81.91" y="889.5" transform="rotate(0.03 81.91 889.5)" font-size="14.1" text-anchor="middle" letter-spacing="0.42">2.5</text>
<path d="M121.27 867.3V873.90" stroke="#000" stroke-width="2.1" fill="none"/>
<text x="121.48" y="889.5" transform="rotate(0.03 121.48 889.5)" font-size="14.1" text-anchor="middle" letter-spacing="0.42">5</text>
<path d="M160.84 867.3V873.90" stroke="#000" stroke-width="2.1" fill="none"/>
<text x="161.05" y="889.5" transform="rotate(0.03 161.05 889.5)" font-size="14.1" text-anchor="middle" letter-spacing="0.42">10</text>
<path d="M200.41 867.3V873.90" stroke="#000" stroke-width="2.1" fill="none"/>
<text x="200.62" y="889.5" transform="rotate(0.03 200.62 889.5)" font-size="14.1" text-anchor="middle" letter-spacing="0.42">20</text>
<path d="M239.98 867.3V873.90" stroke="#000" stroke-width="2.1" fill="none"/>
<text x="240.19" y="889.5" transform="rotate(0.03 240.19 889.5)" font-size="14.1" text-anchor="middle" letter-spacing="0.42">50</text>
<path d="M279.55 867.3V873.90" stroke="#000" stroke-width="2.1" fill="none"/>
<text x="279.76" y="889.5" transform="rotate(0.03 279.76 889.5)" font-size="14.1" text-anchor="middle" letter-spacing="0.42">100</text>
<path d="M319.12 867.3V873.90" stroke="#000" stroke-width="2.1" fill="none"/>
<text x="319.33" y="889.5" transform="rotate(0.03 319.33 889.5)" font-size="14.1" text-anchor="middle" letter-spacing="0.42">250</text>
<path d="M358.69 867.3V873.90" stroke="#000" stroke-width="2.1" fill="none"/>
<text x="358.9" y="889.5" transform="rotate(0.03 358.9 889.5)" font-size="14.1" text-anchor="middle" letter-spacing="0.42">500</text>
<path d="M398.26 867.3V873.90" stroke="#000" stroke-width="2.1" fill="none"/>
<text x="398.47" y="889.5" transform="rotate(0.03 398.47 889.5)" font-size="14.1" text-anchor="middle" letter-spacing="0.42">1000</text>
<text x="239.6" y="911.2" transform="rotate(0.03 239.6 911.2)" font-size="14.2" text-anchor="middle" textLength="86.0" lengthAdjust="spacing">Conc.(µg/ml)</text>
<text transform="translate(22.1,755.0) rotate(-89.97)" font-size="14.2" text-anchor="middle" textLength="109.6" lengthAdjust="spacing">Cell Viability(%)</text>
<text x="4.6" y="652.2" transform="rotate(0.03 4.6 652.2)" font-size="18.2" letter-spacing="0.0">C</text>
<rect x="467.90" y="651.55" width="18.60" height="8.30" fill="#EFB37A"/>
<text x="497.4" y="659.7" transform="rotate(0.03 497.4 659.7)" font-size="14.5" textLength="148.5" lengthAdjust="spacing">Art-Niosomes (100nm)</text>
<rect x="468.45" y="674.95" width="17.50" height="7.20" fill="#FF4545" stroke="#F00000" stroke-width="1.1"/>
<text x="497.4" y="682.55" transform="rotate(0.03 497.4 682.55)" font-size="14.5" textLength="148.5" lengthAdjust="spacing">Art-Niosomes (300nm)</text>
<rect x="467.90" y="697.25" width="18.60" height="8.30" fill="#00B900"/>
<text x="497.4" y="705.4" transform="rotate(0.03 497.4 705.4)" font-size="14.5" textLength="21.7" lengthAdjust="spacing">Art</text>
<rect x="467.90" y="720.10" width="18.60" height="8.30" fill="#0000C4"/>
<text x="497.4" y="728.25" transform="rotate(0.03 497.4 728.25)" font-size="14.5" textLength="46.4" lengthAdjust="spacing">L-AmB</text>
<rect x="467.90" y="742.95" width="18.60" height="8.30" fill="#5E0052"/>
<text x="497.4" y="751.1" transform="rotate(0.03 497.4 751.1)" font-size="14.5" textLength="62.8" lengthAdjust="spacing">Niosomes</text>
</g>
<g id="panelD">
<path d="M64.6 949.73V1125.45" stroke="#000" stroke-width="1.9" fill="none"/>
<path d="M57.099999999999994 1118.85H318.20" stroke="#000" stroke-width="1.9" fill="none"/>
<path d="M57.099999999999994 950.53H317.40V1125.45" stroke="#000" stroke-width="1.85" fill="none"/>
<text x="55.75" y="1123.25" transform="rotate(0.03 55.75 1123.25)" font-size="13.4" text-anchor="end" letter-spacing="0.65">0</text>
<path d="M57.099999999999994 1076.77H64.6" stroke="#000" stroke-width="1.65" fill="none"/>
<text x="55.75" y="1081.17" transform="rotate(0.03 55.75 1081.17)" font-size="13.4" text-anchor="end" letter-spacing="0.65">20</text>
<path d="M57.099999999999994 1034.69H64.6" stroke="#000" stroke-width="1.65" fill="none"/>
<text x="55.75" y="1039.09" transform="rotate(0.03 55.75 1039.09)" font-size="13.4" text-anchor="end" letter-spacing="0.65">40</text>
<path d="M57.099999999999994 992.61H64.6" stroke="#000" stroke-width="1.65" fill="none"/>
<text x="55.75" y="997.01" transform="rotate(0.03 55.75 997.01)" font-size="13.4" text-anchor="end" letter-spacing="0.65">60</text>
<text x="55.75" y="954.93" transform="rotate(0.03 55.75 954.93)" font-size="13.4" text-anchor="end" letter-spacing="0.65">80</text>
<text x="64.97" y="1140.9" transform="rotate(0.03 64.97 1140.9)" font-size="13.4" text-anchor="middle" letter-spacing="0.65">0</text>
<path d="M127.80 1118.85V1125.45" stroke="#000" stroke-width="1.65" fill="none"/>
<text x="128.18" y="1140.9" transform="rotate(0.03 128.18 1140.9)" font-size="13.4" text-anchor="middle" letter-spacing="0.65">10</text>
<path d="M191.00 1118.85V1125.45" stroke="#000" stroke-width="1.65" fill="none"/>
<text x="191.38" y="1140.9" transform="rotate(0.03 191.38 1140.9)" font-size="13.4" text-anchor="middle" letter-spacing="0.65">20</text>
<path d="M254.20 1118.85V1125.45" stroke="#000" stroke-width="1.65" fill="none"/>
<text x="254.58" y="1140.9" transform="rotate(0.03 254.58 1140.9)" font-size="13.4" text-anchor="middle" letter-spacing="0.65">30</text>
<text x="317.77" y="1140.9" transform="rotate(0.03 317.77 1140.9)" font-size="13.4" text-anchor="middle" letter-spacing="0.65">40</text>
<text x="191.2" y="1161.3" transform="rotate(0.03 191.2 1161.3)" font-size="13.8" text-anchor="middle" letter-spacing="0.4">Day</text>
<text transform="translate(33.5,1033.6) rotate(-89.97)" font-size="13.6" text-anchor="middle" letter-spacing="0.45">Lession size(mm<tspan font-size="9.3" dy="-6.6">2</tspan><tspan dy="6.6">)</tspan></text>
<text x="14.4" y="958.6" transform="rotate(0.03 14.4 958.6)" font-size="18.2" letter-spacing="0.0">D</text>
<path d="M64.60 1033.50V1041.50M61.30 1033.50H67.90M61.30 1041.50H67.90" stroke="#000000" stroke-width="0.8" fill="none" opacity="0.75"/>
<path d="M108.84 1038.00V1046.00M105.54 1038.00H112.14M105.54 1046.00H112.14" stroke="#000000" stroke-width="0.8" fill="none" opacity="0.75"/>
<path d="M153.08 1041.90V1051.90M149.78 1041.90H156.38M149.78 1051.90H156.38" stroke="#000000" stroke-width="0.8" fill="none" opacity="0.75"/>
<path d="M197.32 1057.60V1065.60M194.02 1057.60H200.62M194.02 1065.60H200.62" stroke="#000000" stroke-width="0.8" fill="none" opacity="0.75"/>
<path d="M241.56 1072.70V1081.90M238.26 1072.70H244.86M238.26 1081.90H244.86" stroke="#000000" stroke-width="0.8" fill="none" opacity="0.75"/>
<polyline points="64.60,1037.50 108.84,1042.00 153.08,1046.90 197.32,1061.60 241.56,1077.30" fill="none" stroke="#000000" stroke-width="2"/>
<path d="M64.60 1034.00L68.40 1037.50L64.60 1041.00L60.80 1037.50Z" fill="#000000"/>
<path d="M108.84 1038.50L112.64 1042.00L108.84 1045.50L105.04 1042.00Z" fill="#000000"/>
<path d="M153.08 1043.40L156.88 1046.90L153.08 1050.40L149.28 1046.90Z" fill="#000000"/>
<path d="M197.32 1058.10L201.12 1061.60L197.32 1065.10L193.52 1061.60Z" fill="#000000"/>
<path d="M241.56 1073.80L245.36 1077.30L241.56 1080.80L237.76 1077.30Z" fill="#000000"/>
<path d="M64.60 1030.50V1044.50M61.30 1030.50H67.90M61.30 1044.50H67.90" stroke="#F01010" stroke-width="0.8" fill="none" opacity="0.75"/>
<path d="M108.84 1024.40V1036.80M105.54 1024.40H112.14M105.54 1036.80H112.14" stroke="#F01010" stroke-width="0.8" fill="none" opacity="0.75"/>
<path d="M153.08 1015.50V1025.50M149.78 1015.50H156.38M149.78 1025.50H156.38" stroke="#F01010" stroke-width="0.8" fill="none" opacity="0.75"/>
<path d="M197.32 988.10V1000.10M194.02 988.10H200.62M194.02 1000.10H200.62" stroke="#F01010" stroke-width="0.8" fill="none" opacity="0.75"/>
<path d="M241.56 969.30V985.30M238.26 969.30H244.86M238.26 985.30H244.86" stroke="#F01010" stroke-width="0.8" fill="none" opacity="0.75"/>
<polyline points="64.60,1037.50 108.84,1030.60 153.08,1020.50 197.32,994.10 241.56,977.30" fill="none" stroke="#F01010" stroke-width="2"/>
<path d="M64.60 1041.80L68.45 1034.50H60.75Z" fill="#F01010"/>
<path d="M108.84 1034.90L112.69 1027.60H104.99Z" fill="#F01010"/>
<path d="M153.08 1024.80L156.93 1017.50H149.23Z" fill="#F01010"/>
<path d="M197.32 998.40L201.17 991.10H193.47Z" fill="#F01010"/>
<path d="M241.56 981.60L245.41 974.30H237.71Z" fill="#F01010"/>
<path d="M64.60 1027.70V1048.30M61.30 1027.70H67.90M61.30 1048.30H67.90" stroke="#0000FF" stroke-width="0.8" fill="none" opacity="0.75"/>
<path d="M108.84 1025.40V1035.40M105.54 1025.40H112.14M105.54 1035.40H112.14" stroke="#0000FF" stroke-width="0.8" fill="none" opacity="0.75"/>
<path d="M153.08 1010.10V1023.10M149.78 1010.10H156.38M149.78 1023.10H156.38" stroke="#0000FF" stroke-width="0.8" fill="none" opacity="0.75"/>
<path d="M197.32 982.20V994.20M194.02 982.20H200.62M194.02 994.20H200.62" stroke="#0000FF" stroke-width="0.8" fill="none" opacity="0.75"/>
<path d="M241.56 965.90V975.90M238.26 965.90H244.86M238.26 975.90H244.86" stroke="#0000FF" stroke-width="0.8" fill="none" opacity="0.75"/>
<polyline points="64.60,1038.00 108.84,1030.40 153.08,1016.60 197.32,988.20 241.56,970.90" fill="none" stroke="#0000FF" stroke-width="2"/>
<path d="M64.60 1033.70L68.45 1041.00H60.75Z" fill="#0000FF"/>
<path d="M108.84 1026.10L112.69 1033.40H104.99Z" fill="#0000FF"/>
<path d="M153.08 1012.30L156.93 1019.60H149.23Z" fill="#0000FF"/>
<path d="M197.32 983.90L201.17 991.20H193.47Z" fill="#0000FF"/>
<path d="M241.56 966.60L245.41 973.90H237.71Z" fill="#0000FF"/>
<path d="M64.60 1031.80V1045.80M61.30 1031.80H67.90M61.30 1045.80H67.90" stroke="#F04FD8" stroke-width="0.8" fill="none" opacity="0.75"/>
<path d="M108.84 1035.60V1051.60M105.54 1035.60H112.14M105.54 1051.60H112.14" stroke="#F04FD8" stroke-width="0.8" fill="none" opacity="0.75"/>
<path d="M153.08 1045.60V1061.60M149.78 1045.60H156.38M149.78 1061.60H156.38" stroke="#F04FD8" stroke-width="0.8" fill="none" opacity="0.75"/>
<path d="M197.32 1062.30V1078.30M194.02 1062.30H200.62M194.02 1078.30H200.62" stroke="#F04FD8" stroke-width="0.8" fill="none" opacity="0.75"/>
<path d="M241.56 1086.00V1092.00M238.26 1086.00H244.86M238.26 1092.00H244.86" stroke="#F04FD8" stroke-width="0.8" fill="none" opacity="0.75"/>
<polyline points="64.60,1038.80 108.84,1043.60 153.08,1053.60 197.32,1070.30 241.56,1089.00" fill="none" stroke="#F04FD8" stroke-width="2"/>
<rect x="61.15" y="1035.35" width="6.90" height="6.90" fill="#F04FD8"/>
<rect x="105.39" y="1040.15" width="6.90" height="6.90" fill="#F04FD8"/>
<rect x="149.63" y="1050.15" width="6.90" height="6.90" fill="#F04FD8"/>
<rect x="193.87" y="1066.85" width="6.90" height="6.90" fill="#F04FD8"/>
<rect x="238.11" y="1085.55" width="6.90" height="6.90" fill="#F04FD8"/>
<path d="M64.60 1032.60V1042.60M61.30 1032.60H67.90M61.30 1042.60H67.90" stroke="#00B400" stroke-width="0.8" fill="none" opacity="0.75"/>
<path d="M108.84 1036.30V1046.30M105.54 1036.30H112.14M105.54 1046.30H112.14" stroke="#00B400" stroke-width="0.8" fill="none" opacity="0.75"/>
<path d="M153.08 1038.80V1050.80M149.78 1038.80H156.38M149.78 1050.80H156.38" stroke="#00B400" stroke-width="0.8" fill="none" opacity="0.75"/>
<path d="M197.32 1050.30V1056.30M194.02 1050.30H200.62M194.02 1056.30H200.62" stroke="#00B400" stroke-width="0.8" fill="none" opacity="0.75"/>
<path d="M241.56 1058.30V1072.50M238.26 1058.30H244.86M238.26 1072.50H244.86" stroke="#00B400" stroke-width="0.8" fill="none" opacity="0.75"/>
<polyline points="64.60,1037.60 108.84,1041.30 153.08,1044.80 197.32,1053.30 241.56,1065.40" fill="none" stroke="#00B400" stroke-width="2"/>
<circle cx="64.60" cy="1037.60" r="3.55" fill="#00B400"/>
<circle cx="108.84" cy="1041.30" r="3.55" fill="#00B400"/>
<circle cx="153.08" cy="1044.80" r="3.55" fill="#00B400"/>
<circle cx="197.32" cy="1053.30" r="3.55" fill="#00B400"/>
<circle cx="241.56" cy="1065.40" r="3.55" fill="#00B400"/>
<path d="M247.2 966.1H254.1V977.4H247.2" stroke="#000" stroke-width="1.6" fill="none"/>
<text x="259.5" y="975" transform="rotate(0.03 259.5 975)" font-size="11.5" style="font-weight:normal" letter-spacing="0.6">ns</text>
<path d="M244 1062.8H250.6V1071.6H244" stroke="#000" stroke-width="1.6" fill="none"/>
<path d="M244.5 1075.5H250.6V1089.8H244.5" stroke="#000" stroke-width="1.6" fill="none"/>
<path d="M254.9 1059.8H281.6V1091.1H254.9" stroke="#000" stroke-width="1.6" fill="none"/>
<polygon points="254.20,1064.60 254.76,1066.23 256.48,1066.26 255.10,1067.29 255.61,1068.94 254.20,1067.95 252.79,1068.94 253.30,1067.29 251.92,1066.26 253.64,1066.23" fill="#000"/>
<polygon points="257.20,1078.60 257.76,1080.23 259.48,1080.26 258.10,1081.29 258.61,1082.94 257.20,1081.95 255.79,1082.94 256.30,1081.29 254.92,1080.26 256.64,1080.23" fill="#000"/>
<polygon points="288.80,1074.60 289.45,1076.51 291.46,1076.53 289.85,1077.74 290.45,1079.67 288.80,1078.50 287.15,1079.67 287.75,1077.74 286.14,1076.53 288.15,1076.51" fill="#000"/>
<polygon points="294.75,1074.60 295.40,1076.51 297.41,1076.53 295.80,1077.74 296.40,1079.67 294.75,1078.50 293.10,1079.67 293.70,1077.74 292.09,1076.53 294.10,1076.51" fill="#000"/>
<polygon points="300.70,1074.60 301.35,1076.51 303.36,1076.53 301.75,1077.74 302.35,1079.67 300.70,1078.50 299.05,1079.67 299.65,1077.74 298.04,1076.53 300.05,1076.51" fill="#000"/>
<polygon points="306.65,1074.60 307.30,1076.51 309.31,1076.53 307.70,1077.74 308.30,1079.67 306.65,1078.50 305.00,1079.67 305.60,1077.74 303.99,1076.53 306.00,1076.51" fill="#000"/>
<path d="M330.4 988.40H348.1" stroke="#00B400" stroke-width="1.7" fill="none"/>
<circle cx="339.30" cy="988.40" r="3.55" fill="#00B400"/>
<text x="358.1" y="992.7" transform="rotate(0.03 358.1 992.7)" font-size="14.1" textLength="20.7" lengthAdjust="spacing">Art</text>
<path d="M330.4 1011.35H348.1" stroke="#F04FD8" stroke-width="1.7" fill="none"/>
<rect x="335.85" y="1007.90" width="6.90" height="6.90" fill="#F04FD8"/>
<text x="358.1" y="1015.65" transform="rotate(0.03 358.1 1015.65)" font-size="14.1" textLength="86.5" lengthAdjust="spacing">Art-Niosomes</text>
<path d="M330.4 1034.30H348.1" stroke="#0000FF" stroke-width="1.7" fill="none"/>
<path d="M339.30 1030.00L343.15 1037.30H335.45Z" fill="#0000FF"/>
<text x="358.1" y="1038.6" transform="rotate(0.03 358.1 1038.6)" font-size="14.1" textLength="60.6" lengthAdjust="spacing">Niosomes</text>
<path d="M330.4 1057.25H348.1" stroke="#F01010" stroke-width="1.7" fill="none"/>
<path d="M339.30 1061.55L343.15 1054.25H335.45Z" fill="#F01010"/>
<text x="358.1" y="1061.55" transform="rotate(0.03 358.1 1061.55)" font-size="14.1" textLength="94.5" lengthAdjust="spacing">Gel (drug free)</text>
<path d="M330.4 1080.20H348.1" stroke="#000000" stroke-width="1.7" fill="none"/>
<path d="M339.30 1076.70L343.10 1080.20L339.30 1083.70L335.50 1080.20Z" fill="#000000"/>
<text x="358.1" y="1084.5" transform="rotate(0.03 358.1 1084.5)" font-size="14.1" textLength="45.3" lengthAdjust="spacing">L-AmB</text>
</g>
</svg>
</body></html>
